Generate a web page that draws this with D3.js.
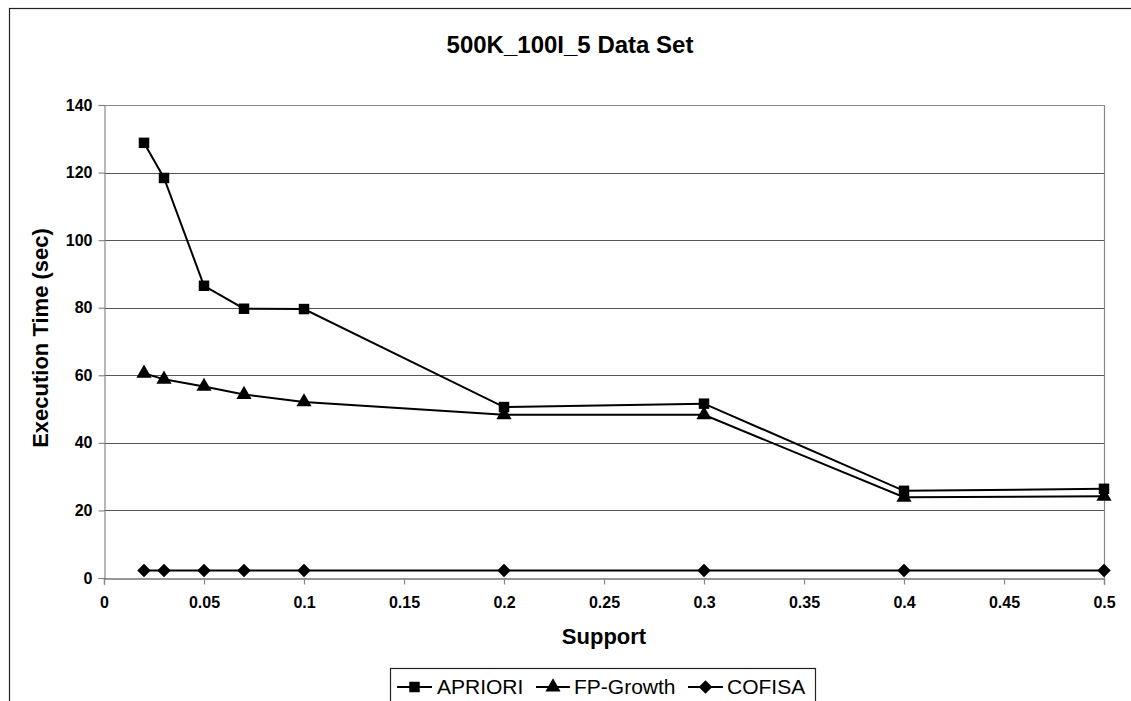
<!DOCTYPE html>
<html>
<head>
<meta charset="utf-8">
<script src="https://cdn.jsdelivr.net/npm/d3@7"></script>
<style>
  html, body { margin: 0; padding: 0; background: #fff; }
  svg { display: block; font-family: "Liberation Sans", Arial, sans-serif; }
</style>
</head>
<body>
<svg id="chart" width="1131" height="701"></svg>
<script>
// Minimum support thresholds
const support = [0.02, 0.03, 0.05, 0.07, 0.1, 0.2, 0.3, 0.4, 0.5];
// Execution times in seconds
const apriori  = [128.8, 118.4, 86.5, 79.7, 79.6, 50.6, 51.6, 25.8, 26.4];
const fpGrowth = [60.6, 58.8, 56.7, 54.3, 52.1, 48.3, 48.3, 23.9, 24.2];
const cofisa   = [2.2, 2.2, 2.2, 2.2, 2.2, 2.2, 2.2, 2.2, 2.2];
const seriesNames = ["APRIORI", "FP-Growth", "COFISA"];
const xTicks = [0, 0.05, 0.1, 0.15, 0.2, 0.25, 0.3, 0.35, 0.4, 0.45, 0.5];
const yTicks = [0, 20, 40, 60, 80, 100, 120, 140];

const svg = d3.select("#chart");
const plot = { left: 104, right: 1104, top: 105, bottom: 578 };

const x = d3.scaleLinear().domain([0, 0.5]).range([plot.left, plot.right]);
const y = d3.scaleLinear().domain([0, 140]).range([plot.bottom, plot.top]);

// Outer chart frame
svg.append("rect")
  .attr("x", 9.5).attr("y", 8.5)
  .attr("width", 1140).attr("height", 720)
  .attr("fill", "none").attr("stroke", "#222").attr("stroke-width", 1.2);

// Title
svg.append("text")
  .attr("x", 570).attr("y", 53)
  .attr("text-anchor", "middle")
  .attr("font-weight", "bold").attr("font-size", 24)
  .text("500K_100I_5 Data Set");

// Horizontal gridlines
svg.append("g").selectAll("line")
  .data(yTicks.filter(v => v > 0 && v < 140))
  .join("line")
  .attr("x1", plot.left).attr("x2", plot.right)
  .attr("y1", d => Math.round(y(d)) + 0.5).attr("y2", d => Math.round(y(d)) + 0.5)
  .attr("stroke", "#555").attr("stroke-width", 1.2);

// Plot area border (top and right)
svg.append("path")
  .attr("d", `M${plot.left},${plot.top + 0.5}H${plot.right + 0.5}V${plot.bottom}`)
  .attr("fill", "none").attr("stroke", "#888").attr("stroke-width", 1.2);

// Y axis
const yAxis = svg.append("g")
  .attr("transform", `translate(${plot.left + 0.5},0)`)
  .call(d3.axisLeft(y).tickValues(yTicks).tickSize(6).tickPadding(6).tickFormat(d3.format("d")));
yAxis.select(".domain").attr("stroke", "#888").attr("stroke-width", 1.2);
yAxis.selectAll(".tick line").attr("stroke", "#888").attr("stroke-width", 1.2);
yAxis.selectAll(".tick text")
  .attr("font-family", "Liberation Sans, Arial, sans-serif")
  .attr("font-size", 16).attr("font-weight", "bold").attr("fill", "#000");

// X axis
const xAxis = svg.append("g")
  .attr("transform", `translate(0,${plot.bottom + 0.5})`)
  .call(d3.axisBottom(x).tickValues(xTicks).tickSize(6).tickPadding(12).tickFormat(d => String(+d.toFixed(2))));
xAxis.select(".domain").attr("stroke", "#333").attr("stroke-width", 1.2);
xAxis.selectAll(".tick line").attr("stroke", "#888").attr("stroke-width", 1.2);
xAxis.selectAll(".tick text")
  .attr("font-family", "Liberation Sans, Arial, sans-serif")
  .attr("font-size", 16).attr("font-weight", "bold").attr("fill", "#000");

// Axis titles
svg.append("text")
  .attr("x", 604).attr("y", 644)
  .attr("text-anchor", "middle")
  .attr("font-weight", "bold").attr("font-size", 22)
  .text("Support");

svg.append("text")
  .attr("transform", "translate(48,338) rotate(-90)")
  .attr("text-anchor", "middle")
  .attr("font-weight", "bold").attr("font-size", 22)
  .text("Execution Time (sec)");

// Marker shapes: square, triangle, and a square turned 45° for the diamond
const markers = [
  { type: d3.symbolSquare, size: 110, rotate: 0 },
  { type: d3.symbolTriangle, size: 100, rotate: 0 },
  { type: d3.symbolSquare, size: 92, rotate: 45 }
];
const series = [apriori, fpGrowth, cofisa].map((vals, i) => ({
  name: seriesNames[i],
  marker: markers[i],
  points: vals.map((v, j) => ({ x: support[j], y: v }))
}));

const line = d3.line().x(d => x(d.x)).y(d => y(d.y));

const sg = svg.append("g").selectAll("g").data(series).join("g");
sg.append("path")
  .attr("d", d => line(d.points))
  .attr("fill", "none").attr("stroke", "#000").attr("stroke-width", 2);
sg.each(function(s) {
  d3.select(this).selectAll("path.mark")
    .data(s.points)
    .join("path")
    .attr("class", "mark")
    .attr("transform", p => `translate(${x(p.x)},${y(p.y)}) rotate(${s.marker.rotate})`)
    .attr("d", d3.symbol().type(s.marker.type).size(s.marker.size))
    .attr("fill", "#000");
});

// Legend
const legend = svg.append("g");
legend.append("rect")
  .attr("x", 390.5).attr("y", 668.5)
  .attr("width", 425).attr("height", 50)
  .attr("fill", "#fff").attr("stroke", "#222").attr("stroke-width", 1.2);

const legendItems = [
  { x0: 397, x1: 432, tx: 437 },
  { x0: 536, x1: 570, tx: 574 },
  { x0: 688, x1: 723, tx: 727 }
];
const ly = 687;
legendItems.forEach((it, i) => {
  const m = series[i].marker;
  legend.append("line")
    .attr("x1", it.x0).attr("x2", it.x1)
    .attr("y1", ly).attr("y2", ly)
    .attr("stroke", "#000").attr("stroke-width", 2);
  legend.append("path")
    .attr("transform", `translate(${(it.x0 + it.x1) / 2},${ly}) rotate(${m.rotate})`)
    .attr("d", d3.symbol().type(m.type).size(m.size))
    .attr("fill", "#000");
  legend.append("text")
    .attr("x", it.tx).attr("y", ly + 7)
    .attr("font-size", 21)
    .text(series[i].name);
});
</script>
</body>
</html>
